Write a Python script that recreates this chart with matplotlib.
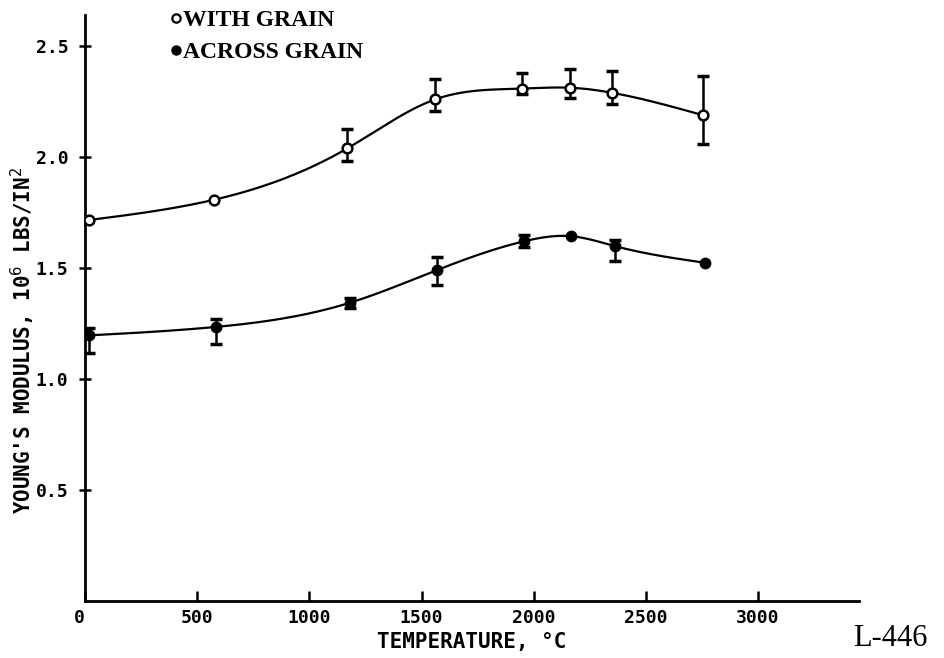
import numpy as np
import matplotlib
matplotlib.use("Agg")
import matplotlib.pyplot as plt
from matplotlib.lines import Line2D

# values
temp_with = [20, 575, 1170, 1560, 1950, 2160, 2350, 2755]
mod_with = [1.717, 1.808, 2.04, 2.26, 2.309, 2.313, 2.29, 2.189]
hi_with = [None, None, 2.126, 2.351, 2.381, 2.399, 2.388, 2.365]
lo_with = [None, None, 1.983, 2.208, 2.283, 2.268, 2.238, 2.058]

temp_across = [20, 583, 1181, 1571, 1957, 2165, 2363, 2765]
mod_across = [1.197, 1.235, 1.344, 1.492, 1.621, 1.644, 1.599, 1.524]
hi_across = [1.23, 1.269, 1.366, 1.549, 1.649, None, 1.627, None]
lo_across = [1.119, 1.156, 1.320, 1.422, 1.594, None, 1.534, None]

x_ticks = [0, 500, 1000, 1500, 2000, 2500, 3000]
y_ticks = [0.5, 1.0, 1.5, 2.0, 2.5]


def spline(x, y, n=400):
    # natural cubic spline through the points
    x = np.asarray(x, float)
    y = np.asarray(y, float)
    h = np.diff(x)
    m = len(x)
    A = np.zeros((m, m))
    b = np.zeros(m)
    A[0, 0] = A[-1, -1] = 1
    for i in range(1, m - 1):
        A[i, i - 1] = h[i - 1]
        A[i, i] = 2 * (h[i - 1] + h[i])
        A[i, i + 1] = h[i]
        b[i] = 6 * ((y[i + 1] - y[i]) / h[i] - (y[i] - y[i - 1]) / h[i - 1])
    M = np.linalg.solve(A, b)
    xs = np.linspace(x[0], x[-1], n)
    k = np.clip(np.searchsorted(x, xs) - 1, 0, m - 2)
    t = xs - x[k]
    hk = h[k]
    a = (M[k + 1] - M[k]) / (6 * hk)
    c = (y[k + 1] - y[k]) / hk - hk * (2 * M[k] + M[k + 1]) / 6
    ys = y[k] + c * t + M[k] / 2 * t ** 2 + a * t ** 3
    return xs, ys


def errbars(ax, x, y, hi, lo):
    idx = [i for i in range(len(x)) if hi[i] is not None]
    xe = np.array([x[i] for i in idx])
    ye = np.array([y[i] for i in idx])
    up = np.array([hi[i] for i in idx]) - ye
    dn = ye - np.array([lo[i] for i in idx])
    ax.errorbar(xe, ye, yerr=[dn, up], fmt="none", ecolor="black",
                elinewidth=1.8, capsize=4.5, capthick=2.5, zorder=3)


fig = plt.figure(figsize=(9.44, 6.58), dpi=100)
ax = fig.add_axes([0.090, 0.0866, 0.820, 0.8904])

xs, ys = spline(temp_with, mod_with)
ax.plot(xs, ys, color="black", lw=1.6, zorder=2)
errbars(ax, temp_with, mod_with, hi_with, lo_with)
ax.plot(temp_with, mod_with, "o", ms=7, mfc="white", mec="black", mew=1.8, zorder=4)

xs, ys = spline(temp_across, mod_across)
ax.plot(xs, ys, color="black", lw=1.6, zorder=2)
errbars(ax, temp_across, mod_across, hi_across, lo_across)
ax.plot(temp_across, mod_across, "o", ms=7.5, color="black", zorder=4)

ax.set_xlim(0, 3450)
ax.set_ylim(0, 2.64)
ax.spines["top"].set_visible(False)
ax.spines["right"].set_visible(False)
ax.spines["left"].set_linewidth(2)
ax.spines["bottom"].set_linewidth(2)

ticks_font = dict(family="DejaVu Sans Mono", weight="bold", size=13)
label_font = dict(family="DejaVu Sans Mono", weight="bold", size=15)
ax.set_xticks(x_ticks)
ax.set_xticklabels([str(v) for v in x_ticks], **ticks_font)
ax.set_yticks(y_ticks)
ax.set_yticklabels([f"{v:.1f}" for v in y_ticks], **ticks_font)
ax.tick_params(axis="x", direction="in", length=7, width=1.8, pad=6)
ax.tick_params(axis="y", direction="inout", length=8, width=1.8, pad=8)
ax.get_xticklabels()[0].set_ha("right")

ax.set_xlabel("TEMPERATURE, °C", labelpad=3, **label_font)
ax.set_ylabel("YOUNG'S MODULUS, 10$^6$ LBS/IN$^2$", **label_font)
ax.yaxis.set_label_coords(-0.062, 0.445)

handles = [
    Line2D([], [], ls="none", marker="o", ms=6, mfc="white", mec="black", mew=1.6),
    Line2D([], [], ls="none", marker="o", ms=6.5, color="black"),
]
fig.legend(handles, ["WITH GRAIN", "ACROSS GRAIN"], loc="upper left",
           bbox_to_anchor=(0.158, 1.018), frameon=False, handlelength=0.5,
           handletextpad=0.05, labelspacing=0.45,
           prop=dict(family="Liberation Serif", weight="bold", size=17))

fig.text(0.982, 0.008, "L-446", ha="right", va="bottom",
         family="Liberation Serif", size=22)

fig.savefig("out.png", dpi=100, facecolor="white")
